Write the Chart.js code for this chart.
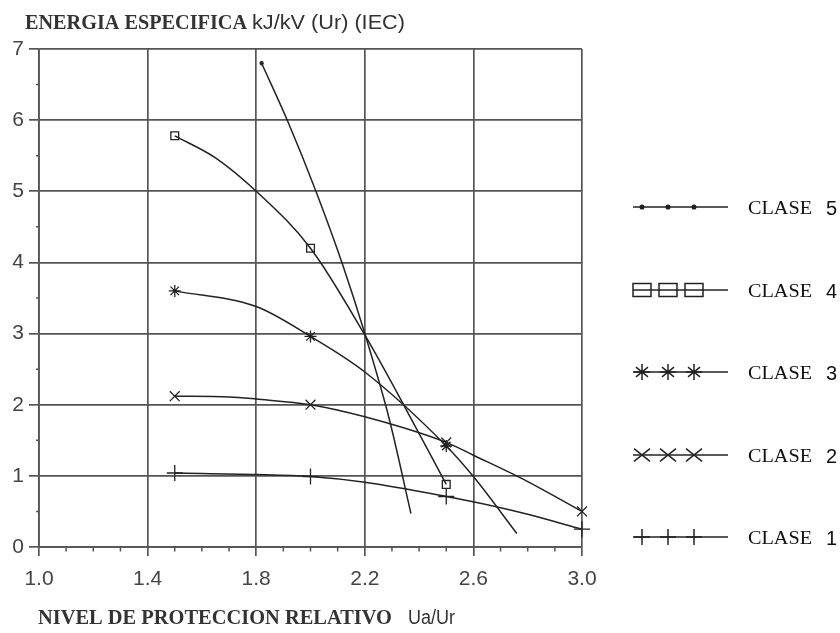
<!DOCTYPE html>
<html>
<head>
<meta charset="utf-8">
<script src="https://cdn.jsdelivr.net/npm/chart.js@4.4.1/dist/chart.umd.min.js"></script>
<style>
  html, body { margin: 0; padding: 0; background: #fff; }
  #wrap { width: 840px; height: 633px; }
</style>
</head>
<body>
<div id="wrap"><canvas id="chart" width="840" height="633"></canvas></div>
<script>
// values
const xTicks = [1.0, 1.4, 1.8, 2.2, 2.6, 3.0];
const yTicks = [0, 1, 2, 3, 4, 5, 6, 7];

const seriesNames = ["CLASE 5", "CLASE 4", "CLASE 3", "CLASE 2", "CLASE 1"];

const clase5X = [1.82, 1.92, 2.02, 2.12, 2.2, 2.29, 2.37];
const clase5Y = [6.8, 5.95, 5.0, 3.95, 3.0, 1.8, 0.47];
const clase5Marks = [1.82];

const clase4X = [1.5, 1.65, 1.8, 2.0, 2.2, 2.35, 2.5];
const clase4Y = [5.78, 5.47, 5.0, 4.2, 2.98, 1.95, 0.88];
const clase4Marks = [1.5, 2.0, 2.5];

const clase3X = [1.5, 1.8, 2.0, 2.2, 2.5, 2.6, 2.76];
const clase3Y = [3.6, 3.38, 2.96, 2.46, 1.42, 0.99, 0.19];
const clase3Marks = [1.5, 2.0, 2.5];

const clase2X = [1.5, 1.7, 1.8, 2.0, 2.2, 2.5, 2.6, 2.8, 3.0];
const clase2Y = [2.12, 2.11, 2.08, 2.0, 1.83, 1.47, 1.29, 0.92, 0.5];
const clase2Marks = [1.5, 2.0, 2.5, 3.0];

const clase1X = [1.5, 1.8, 2.0, 2.2, 2.5, 2.68, 2.8, 3.0];
const clase1Y = [1.04, 1.02, 0.99, 0.91, 0.71, 0.57, 0.46, 0.25];
const clase1Marks = [1.5, 2.0, 2.5, 3.0];

const ink = "#222";
const gridInk = "#555";

function makeSet(label, xs, ys, marks, style, radius) {
  return {
    label,
    data: xs.map((x, i) => ({ x, y: ys[i] })),
    borderColor: ink,
    backgroundColor: style === "circle" ? ink : "rgba(0,0,0,0)",
    borderWidth: 1.5,
    pointStyle: style,
    pointBorderColor: ink,
    pointBorderWidth: 1.3,
    pointRadius: (ctx) => (marks.includes(xs[ctx.dataIndex]) ? radius : 0),
    pointHoverRadius: 0,
    showLine: true,
    cubicInterpolationMode: "monotone",
    fill: false,
    clip: false,
  };
}

const datasets = [
  makeSet(seriesNames[0], clase5X, clase5Y, clase5Marks, "circle", 1.5),
  makeSet(seriesNames[1], clase4X, clase4Y, clase4Marks, "rect", 5.5),
  makeSet(seriesNames[2], clase3X, clase3Y, clase3Marks, "star", 6),
  makeSet(seriesNames[3], clase2X, clase2Y, clase2Marks, "crossRot", 7),
  makeSet(seriesNames[4], clase1X, clase1Y, clase1Marks, "cross", 8),
];

// draws a text stretched to a given width
function fitText(ctx, text, x, y, font, width) {
  ctx.font = font;
  const w = ctx.measureText(text).width;
  ctx.save();
  ctx.translate(x, y);
  ctx.scale(width / w, 1);
  ctx.fillText(text, 0, 0);
  ctx.restore();
}

function legendMark(ctx, style, x, y) {
  ctx.beginPath();
  if (style === "rect") {
    ctx.rect(x - 9, y - 6.5, 18, 13);
  } else if (style === "circle") {
    ctx.arc(x, y, 1.8, 0, Math.PI * 2);
    ctx.fill();
  } else {
    const r = 8;
    if (style === "cross" || style === "star") {
      ctx.moveTo(x - r, y); ctx.lineTo(x + r, y);
      ctx.moveTo(x, y - r); ctx.lineTo(x, y + r);
    }
    if (style === "crossRot" || style === "star") {
      const d = style === "star" ? r * 0.75 : r;
      ctx.moveTo(x - d, y - d * 0.8); ctx.lineTo(x + d, y + d * 0.8);
      ctx.moveTo(x - d, y + d * 0.8); ctx.lineTo(x + d, y - d * 0.8);
    }
  }
  ctx.stroke();
}

const decorPlugin = {
  id: "decor",
  afterDraw(chart) {
    const { ctx, scales } = chart;
    const xs = scales.x, ys = scales.y;
    ctx.save();

    // minor ticks
    ctx.strokeStyle = gridInk;
    ctx.lineWidth = 1.5;
    ctx.beginPath();
    for (let i = 0; i <= 20; i++) {
      if (i % 4 === 0) continue;
      const px = xs.getPixelForValue(1 + i / 10);
      ctx.moveTo(px, ys.bottom);
      ctx.lineTo(px, ys.bottom + 4.5);
    }
    for (let i = 0; i < 7; i++) {
      const py = ys.getPixelForValue(i + 0.5);
      ctx.moveTo(xs.left, py);
      ctx.lineTo(xs.left - 3, py);
    }
    ctx.stroke();

    // titles
    ctx.fillStyle = "#333";
    ctx.textBaseline = "alphabetic";
    ctx.textAlign = "left";
    fitText(ctx, "ENERGIA ESPECIFICA", 25, 29, "bold 20px 'Liberation Serif'", 222);
    fitText(ctx, "kJ/kV (Ur) (IEC)", 252, 29, "20px 'Liberation Sans'", 153);
    fitText(ctx, "NIVEL DE PROTECCION RELATIVO", 38, 624, "bold 20px 'Liberation Serif'", 354);
    fitText(ctx, "Ua/Ur", 408, 624, "20px 'Liberation Sans'", 47);

    // legend
    const rows = [207, 290, 372, 455, 537];
    chart.data.datasets.forEach((ds, i) => {
      const y = rows[i];
      ctx.strokeStyle = ink;
      ctx.fillStyle = ink;
      ctx.lineWidth = 1.5;
      ctx.beginPath();
      ctx.moveTo(633, y);
      ctx.lineTo(728, y);
      ctx.stroke();
      [642, 668, 694].forEach((mx) => legendMark(ctx, ds.pointStyle, mx, y));
      const parts = ds.label.split(" ");
      ctx.fillStyle = "#111";
      ctx.textBaseline = "alphabetic";
      fitText(ctx, parts[0], 748, y + 7, "19px 'Liberation Serif'", 64);
      ctx.font = "20px 'Liberation Sans'";
      ctx.fillText(parts[1], 826, y + 8);
    });
    ctx.restore();
  },
};

const tickFont = { family: "'Liberation Sans', Arial, sans-serif", size: 21 };

new Chart(document.getElementById("chart").getContext("2d"), {
  type: "scatter",
  data: { datasets },
  options: {
    responsive: false,
    animation: false,
    devicePixelRatio: 1,
    layout: { padding: { left: 0, right: 258, top: 49, bottom: 0 } },
    plugins: { legend: { display: false }, tooltip: { enabled: false } },
    scales: {
      x: {
        type: "linear",
        min: xTicks[0],
        max: xTicks[xTicks.length - 1],
        afterFit: (scale) => { scale.height = 86; },
        afterBuildTicks: (scale) => { scale.ticks = xTicks.map((v) => ({ value: v })); },
        ticks: {
          callback: (v) => Number(v).toFixed(1),
          font: tickFont,
          color: "#444",
          padding: 11,
          maxRotation: 0,
          autoSkip: false,
        },
        grid: { color: gridInk, lineWidth: 1.7, tickLength: 9, tickColor: gridInk },
        border: { color: gridInk, width: 1.7 },
      },
      y: {
        type: "linear",
        min: yTicks[0],
        max: yTicks[yTicks.length - 1],
        afterFit: (scale) => { scale.width = 39; },
        afterBuildTicks: (scale) => { scale.ticks = yTicks.map((v) => ({ value: v })); },
        ticks: {
          callback: (v) => String(v),
          font: tickFont,
          color: "#444",
          padding: 5,
        },
        grid: { color: gridInk, lineWidth: 1.7, tickLength: 10, tickColor: gridInk },
        border: { color: gridInk, width: 1.7 },
      },
    },
  },
  plugins: [decorPlugin],
});
</script>
</body>
</html>
